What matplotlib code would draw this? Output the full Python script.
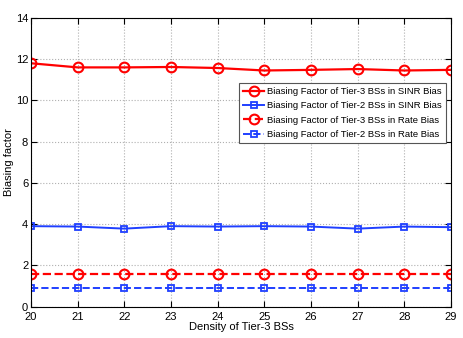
import matplotlib
matplotlib.use("Agg")
import matplotlib.pyplot as plt

density = [20, 21, 22, 23, 24, 25, 26, 27, 28, 29]
tier3_sinr = [11.8, 11.6, 11.6, 11.62, 11.57, 11.45, 11.48, 11.52, 11.45, 11.48]
tier2_sinr = [3.9, 3.88, 3.78, 3.9, 3.88, 3.9, 3.88, 3.78, 3.88, 3.85]
tier3_rate = [1.58, 1.58, 1.58, 1.58, 1.58, 1.58, 1.58, 1.58, 1.58, 1.58]
tier2_rate = [0.88, 0.88, 0.88, 0.88, 0.88, 0.88, 0.88, 0.88, 0.88, 0.88]
labels = ["Biasing Factor of Tier-3 BSs in SINR Bias",
          "Biasing Factor of Tier-2 BSs in SINR Bias",
          "Biasing Factor of Tier-3 BSs in Rate Bias",
          "Biasing Factor of Tier-2 BSs in Rate Bias"]

plt.rcParams['font.family'] = ['Liberation Sans', 'DejaVu Sans']

fig = plt.figure(figsize=(4.63, 3.38), dpi=100)
ax = fig.add_axes([0.067, 0.093, 0.907, 0.854])

ax.plot(density, tier3_sinr, '-', color='#ff0000', lw=1.6, marker='o', ms=7,
        mfc='none', mew=1.5, label=labels[0])
ax.plot(density, tier2_sinr, '-', color='#1f3fff', lw=1.4, marker='s', ms=5,
        mfc='none', mew=1.3, label=labels[1])
ax.plot(density, tier3_rate, '--', color='#ff0000', lw=1.6, marker='o', ms=7,
        mfc='none', mew=1.5, label=labels[2])
ax.plot(density, tier2_rate, '--', color='#1f3fff', lw=1.4, marker='s', ms=5,
        mfc='none', mew=1.3, label=labels[3])

ax.set_xlim(20, 29)
ax.set_ylim(0, 14)
ax.set_xticks(density)
ax.set_yticks(range(0, 15, 2))
ax.grid(True, linestyle=':', color='#b0b0b0', lw=0.8)
ax.tick_params(direction='in', top=True, right=True, labelsize=8, length=4)
ax.tick_params(axis='x', pad=4)
ax.tick_params(axis='y', pad=2)
ax.set_xlabel('Density of Tier-3 BSs', fontsize=8, labelpad=0)
ax.set_ylabel('Biasing factor', fontsize=8, labelpad=1)
for s in ax.spines.values():
    s.set_linewidth(0.8)

leg = ax.legend(loc='upper right', bbox_to_anchor=(446/463, 1-83/338),
                bbox_transform=fig.transFigure, fontsize=6.8, frameon=True,
                fancybox=False, edgecolor='#555555', framealpha=1,
                borderaxespad=0, handlelength=2.2, handletextpad=0.3,
                labelspacing=0.55, borderpad=0.45)
leg.get_frame().set_linewidth(0.8)

fig.savefig('out.png', dpi=100)
